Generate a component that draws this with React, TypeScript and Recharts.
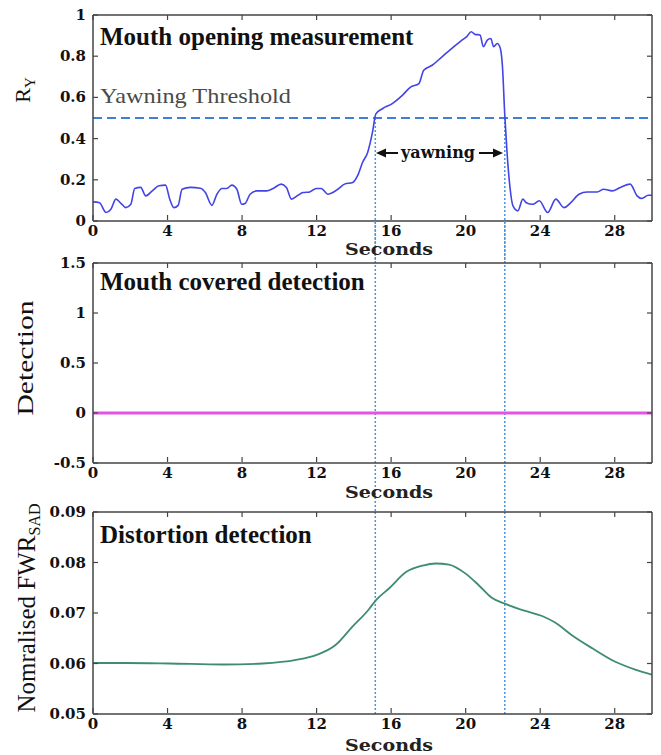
import React from 'react';
import { LineChart, Line, XAxis, YAxis, ReferenceLine } from 'recharts';

// panel 1 – mouth opening ratio R_Y
const mouthSeconds = [
  0, 0.35, 0.7, 0.96, 1.23, 1.5, 1.76, 2.03, 2.24, 2.56, 2.83, 3.18, 3.54, 3.89, 4.12, 4.34, 4.57, 4.78,
  5.23, 5.76, 6.03, 6.38, 6.65, 6.92, 7.18, 7.45, 7.72, 7.98, 8.16, 8.43, 8.78, 9.32, 9.67, 10.1, 10.38,
  10.65, 11.0, 11.27, 11.63, 11.98, 12.25, 12.6, 12.87, 13.14, 13.5, 13.94, 14.2, 14.47, 14.74, 15.0,
  15.18, 15.53, 16.06, 16.6, 17.04, 17.49, 17.75, 18.2, 18.73, 19.26, 19.8, 20.06, 20.3, 20.5, 20.77,
  20.95, 21.16, 21.35, 21.5, 21.7, 21.86, 21.97, 22.1, 22.22, 22.37, 22.54, 22.8, 23.07, 23.25, 23.6,
  23.95, 24.4, 24.84, 25.28, 25.64, 26.08, 26.52, 27.06, 27.4, 27.86, 28.3, 28.83, 29.2, 29.45, 29.8, 30,
];
const mouthRy = [
  0.093, 0.089, 0.041, 0.057, 0.106, 0.086, 0.065, 0.081, 0.158, 0.163, 0.122, 0.146, 0.171, 0.174, 0.106,
  0.065, 0.076, 0.154, 0.163, 0.159, 0.138, 0.076, 0.13, 0.158, 0.158, 0.174, 0.154, 0.081, 0.085, 0.13,
  0.146, 0.146, 0.158, 0.179, 0.163, 0.106, 0.125, 0.138, 0.141, 0.158, 0.158, 0.13, 0.138, 0.154, 0.179,
  0.187, 0.22, 0.285, 0.333, 0.431, 0.52, 0.545, 0.57, 0.61, 0.65, 0.667, 0.732, 0.756, 0.797, 0.838,
  0.878, 0.895, 0.919, 0.906, 0.903, 0.846, 0.878, 0.886, 0.846, 0.862, 0.838, 0.756, 0.512, 0.333, 0.17,
  0.073, 0.049, 0.106, 0.089, 0.081, 0.098, 0.041, 0.106, 0.065, 0.089, 0.13, 0.141, 0.141, 0.154, 0.146,
  0.163, 0.179, 0.122, 0.109, 0.125, 0.125,
];

// panel 2 – mouth covered detection
const coveredSeconds = [0, 30];
const coveredValues = [0, 0];

// panel 3 – normalised FWR_SAD
const sadSeconds = [
  0, 1.8, 4.1, 7.0, 9.1, 10.9, 12.0, 13.0, 13.9, 14.8, 15.2, 15.9, 16.8, 17.7, 18.4, 19.1, 20.0, 20.7,
  21.4, 22.2, 23.2, 24.1, 24.8, 25.7, 26.8, 28.0, 29.1, 30,
];
const sadValues = [
  0.0601, 0.0601, 0.06, 0.0598, 0.06, 0.0607, 0.0617, 0.0636, 0.0672, 0.0707, 0.0726, 0.0749, 0.0781,
  0.0794, 0.0798, 0.0796, 0.0778, 0.0755, 0.073, 0.0717, 0.0704, 0.0694, 0.0681, 0.0656, 0.063, 0.0604,
  0.0588, 0.0578,
];

const xTicks = [0, 4, 8, 12, 16, 20, 24, 28];
const ryTicks = [0, 0.2, 0.4, 0.6, 0.8, 1];
const detTicks = [-0.5, 0, 0.5, 1, 1.5];
const sadTicks = [0.05, 0.06, 0.07, 0.08, 0.09];

const yawnThreshold = 0.5;
const yawnStart = 15.15;
const yawnEnd = 22.1;

const FRAME = '#444';
const TICK_FONT = 'DejaVu Serif';
const SERIF = '"Liberation Serif", "Times New Roman", serif';

const toRows = (xs: number[], ys: number[]) => xs.map((t, i) => ({ t, v: ys[i] }));

function BottomTick({ x, y, payload }: any) {
  return (
    <g>
      <line x1={x} x2={x} y1={y - 1} y2={y - 6} stroke={FRAME} strokeWidth={1.2} />
      <text x={x} y={y + 10} textAnchor="middle" dominantBaseline="central"
        fontFamily={TICK_FONT} fontWeight="bold" fontSize={15} fill="#111">
        {payload.value}
      </text>
    </g>
  );
}

function TopTick({ x, y }: any) {
  return <line x1={x} x2={x} y1={y} y2={y + 5} stroke={FRAME} strokeWidth={1.2} />;
}

function RightTick({ x, y }: any) {
  return <line x1={x} x2={x - 5} y1={y} y2={y} stroke={FRAME} strokeWidth={1.2} />;
}

function makeLeftTick(fmt: (v: number) => string) {
  return function LeftTick({ x, y, payload }: any) {
    return (
      <g>
        <line x1={x} x2={x + 5} y1={y} y2={y} stroke={FRAME} strokeWidth={1.2} />
        <text x={x - 7} y={y} textAnchor="end" dominantBaseline="central"
          fontFamily={TICK_FONT} fontWeight="bold" fontSize={15} fill="#111">
          {fmt(payload.value)}
        </text>
      </g>
    );
  };
}

type PanelProps = {
  top: number;
  height: number;
  marginTop: number;
  marginBottom: number;
  rows: { t: number; v: number }[];
  yDomain: [number, number];
  yTicks: number[];
  fmt: (v: number) => string;
  stroke: string;
  strokeWidth: number;
  children?: React.ReactNode;
};

// axes are 1px thick (recharts skips axes of zero size); margins are set so the plot box
// spans x 93..652 and the given top / bottom
function Panel({ top, height, marginTop, marginBottom, rows, yDomain, yTicks, fmt, stroke, strokeWidth, children }: PanelProps) {
  const axisLine = { stroke: FRAME, strokeWidth: 1.5 };
  return (
    <div style={{ position: 'absolute', left: 0, top }}>
      <LineChart width={661} height={height} data={rows}
        margin={{ top: marginTop - 1, right: 8, bottom: marginBottom - 1, left: 92 }}>
        <XAxis xAxisId="b" type="number" dataKey="t" domain={[0, 30]} ticks={xTicks} interval={0}
          height={1} tickSize={0} tickMargin={0} tickLine={false} axisLine={axisLine}
          tick={BottomTick} allowDataOverflow />
        <XAxis xAxisId="t" orientation="top" type="number" dataKey="t" domain={[0, 30]} ticks={xTicks}
          interval={0} height={1} tickSize={0} tickMargin={0} tickLine={false} axisLine={axisLine}
          tick={TopTick} allowDataOverflow />
        <YAxis yAxisId="l" type="number" domain={yDomain} ticks={yTicks} interval={0} width={1}
          tickSize={0} tickMargin={0} tickLine={false} axisLine={axisLine}
          tick={makeLeftTick(fmt)} allowDataOverflow />
        <YAxis yAxisId="r" orientation="right" type="number" domain={yDomain} ticks={yTicks} interval={0}
          width={1} tickSize={0} tickMargin={0} tickLine={false} axisLine={axisLine}
          tick={RightTick} allowDataOverflow />
        {children}
        <Line xAxisId="b" yAxisId="l" dataKey="v" type="monotone" stroke={stroke}
          strokeWidth={strokeWidth} dot={false} isAnimationActive={false} />
      </LineChart>
    </div>
  );
}

function yawnMarks(yTop: number, yBottom: number) {
  const style = { stroke: '#4f94d4', strokeWidth: 1.5, strokeDasharray: '2 2' };
  return [yawnStart, yawnEnd].map((x) => (
    <ReferenceLine key={x} xAxisId="b" yAxisId="l" ifOverflow="visible"
      segment={[{ x, y: yTop }, { x, y: yBottom }]} {...style} />
  ));
}

const labelText = { fontFamily: SERIF, fill: '#111' };
const secondsStyle = { fontFamily: TICK_FONT, fontWeight: 'bold' as const, fontSize: 16, fill: '#222' };

export default function App() {
  return (
    <div style={{ position: 'absolute', left: 0, top: 0, width: 661, height: 755, background: '#fff' }}>
      <Panel top={0} height={263} marginTop={15} marginBottom={42} rows={toRows(mouthSeconds, mouthRy)}
        yDomain={[0, 1]} yTicks={ryTicks} fmt={(v) => (v === 0 || v === 1 ? String(v) : v.toFixed(1))}
        stroke="#4343e6" strokeWidth={1.6}>
        <ReferenceLine xAxisId="b" yAxisId="l" y={yawnThreshold} stroke="#3f7fd6" strokeWidth={2}
          strokeDasharray="9 5" />
        {yawnMarks(yawnThreshold, -0.2)}
      </Panel>
      <Panel top={221} height={291} marginTop={42} marginBottom={49} rows={toRows(coveredSeconds, coveredValues)}
        yDomain={[-0.5, 1.5]} yTicks={detTicks} fmt={(v) => String(v)} stroke="#e254e2" strokeWidth={3}>
        {yawnMarks(1.92, -0.99)}
      </Panel>
      <Panel top={490} height={265} marginTop={22} marginBottom={41} rows={toRows(sadSeconds, sadValues)}
        yDomain={[0.05, 0.09]} yTicks={sadTicks} fmt={(v) => v.toFixed(2)} stroke="#3d8c73" strokeWidth={1.8}>
        {yawnMarks(0.09, 0.05)}
      </Panel>

      <svg width={661} height={755} style={{ position: 'absolute', left: 0, top: 0, pointerEvents: 'none' }}>
        {/* panel titles */}
        <text x={100} y={45} {...labelText} fontWeight="bold" fontSize={25}>Mouth opening measurement</text>
        <text x={100} y={290} {...labelText} fontWeight="bold" fontSize={25}>Mouth covered detection</text>
        <text x={100} y={543} {...labelText} fontWeight="bold" fontSize={25}>Distortion detection</text>

        <text x={100} y={103} fontFamily={SERIF} fontSize={21} fill="#4a4a4a" textLength={191}
          lengthAdjust="spacingAndGlyphs">Yawning Threshold</text>

        {/* yawning arrow */}
        <line x1={384} x2={398} y1={153} y2={153} stroke="#111" strokeWidth={2} />
        <polygon points="376,153 386,148.5 386,157.5" fill="#111" />
        <text x={438} y={158} textAnchor="middle" fontFamily={TICK_FONT} fontWeight="bold" fontSize={16}
          fill="#111">yawning</text>
        <line x1={479} x2={495} y1={153} y2={153} stroke="#111" strokeWidth={2} />
        <polygon points="503,153 493,148.5 493,157.5" fill="#111" />

        {/* axis titles */}
        <text x={389} y={255} textAnchor="middle" {...secondsStyle} textLength={88}
          lengthAdjust="spacingAndGlyphs">Seconds</text>
        <text x={389} y={498} textAnchor="middle" {...secondsStyle} textLength={88}
          lengthAdjust="spacingAndGlyphs">Seconds</text>
        <text x={389} y={751} textAnchor="middle" {...secondsStyle} textLength={88}
          lengthAdjust="spacingAndGlyphs">Seconds</text>

        <text x={30} y={90} textAnchor="middle" transform="rotate(-90 30 90)" {...labelText} fontSize={22}>
          R<tspan fontSize={15} dy={5}>Y</tspan>
        </text>
        <text x={33} y={358} textAnchor="middle" transform="rotate(-90 33 358)" {...labelText} fontSize={24}
          textLength={115} lengthAdjust="spacingAndGlyphs">Detection</text>
        <text x={35} y={608} textAnchor="middle" transform="rotate(-90 35 608)" {...labelText} fontSize={25}>
          Nomralised FWR<tspan fontSize={16} dy={5}>SAD</tspan>
        </text>
      </svg>
    </div>
  );
}
